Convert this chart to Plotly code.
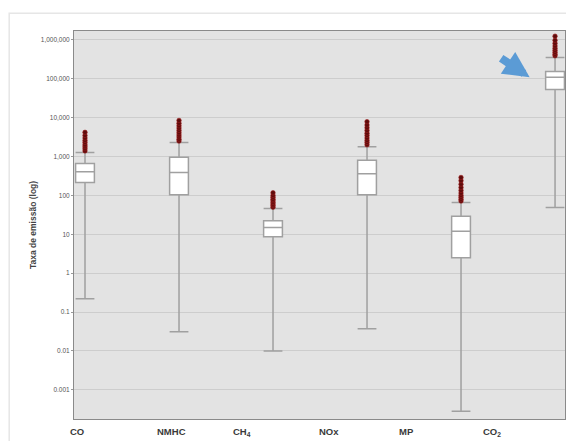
import plotly.graph_objects as go

categories = ["CO", "NMHC", "CH<sub>4</sub>", "NOx", "MP", "CO<sub>2</sub>"]
lower_whisker = [0.22, 0.031, 0.01, 0.037, 0.00028, 49]
q1 = [214, 105, 8.7, 105, 2.5, 53000]
median = [410, 390, 15, 360, 12, 110000]
q3 = [660, 955, 22.5, 800, 29, 155000]
upper_whisker = [1280, 2290, 46, 1800, 66, 355000]
outliers = [
    [1400, 1600, 1800, 2000, 2300, 2600, 3000, 3500, 4200],
    [2500, 2800, 3200, 3600, 4100, 4700, 5400, 6200, 7200, 8500],
    [50, 55, 60, 66, 73, 80, 90, 100, 117],
    [2000, 2300, 2600, 3000, 3500, 4000, 4700, 5500, 6500, 7900],
    [72, 80, 90, 100, 115, 135, 160, 195, 240, 290],
    [390000, 430000, 480000, 540000, 610000, 700000, 820000, 980000, 1250000],
]
y_tickvals = [1e6, 1e5, 1e4, 1e3, 100, 10, 1, 0.1, 0.01, 0.001]
y_ticktext = ["1,000,000", "100,000", "10,000", "1,000", "100", "10", "1", "0.1", "0.01", "0.001"]

pos = list(range(len(categories)))
x_range = [-0.117, 5.106]

fig = go.Figure()
fig.add_trace(go.Box(
    x=pos, q1=q1, median=median, q3=q3,
    lowerfence=lower_whisker, upperfence=upper_whisker,
    width=0.2, whiskerwidth=1,
    fillcolor="white", line=dict(color="#a0a0a0", width=1.5),
    boxpoints=False, showlegend=False, hoverinfo="y",
))

ox, oy = [], []
for i, vals in enumerate(outliers):
    ox += [i] * len(vals)
    oy += vals
fig.add_trace(go.Scatter(
    x=ox, y=oy, mode="markers",
    marker=dict(size=4.5, color="#5e0c0c", line=dict(width=0.6, color="#a01c1c")),
    showlegend=False,
))

# category labels (slightly offset from box centers, as in the reference)
for i, c in enumerate(categories):
    xd = i * 0.925 - 0.18
    xp = (xd - x_range[0]) / (x_range[1] - x_range[0])
    fig.add_annotation(
        x=xp, y=0, xref="paper", yref="paper", yanchor="top", yshift=-5,
        text="<b>" + c + "</b>", showarrow=False,
        font=dict(size=9.5, color="#3a3a3a", family="Liberation Sans, Arial"),
    )

# blue arrow pointing at the CO2 box
fig.add_annotation(
    x=4.73, y=5.04, xref="x", yref="y", ax=-30, ay=-20,
    text="", showarrow=True, arrowhead=2, arrowsize=0.65, arrowwidth=8,
    arrowcolor="#5b9bd5",
)

fig.add_shape(type="rect", xref="paper", yref="paper",
              x0=-0.132, x1=1.008, y0=-0.1, y1=1.046,
              line=dict(color="#e6e6e6", width=1.5), layer="below")

fig.update_xaxes(range=x_range, showticklabels=False, showgrid=False, automargin=False,
                 zeroline=False, showline=True, linecolor="#8a8a8a", linewidth=1, mirror=True)
fig.update_yaxes(type="log", range=[-3.75, 6.23], tickvals=y_tickvals, ticktext=y_ticktext,
                 automargin=False,
                 tickfont=dict(size=6.5, color="#555555"), gridcolor="#cdcdcd", gridwidth=1,
                 showline=True, linecolor="#8a8a8a", linewidth=1, mirror=True,
                 ticks="outside", ticklen=2, tickcolor="#999999",
                 title=dict(text="<b>Taxa de emissão (log)</b>", standoff=2,
                            font=dict(size=8.5, color="#444444")))

# the page body adds an 8 px offset, so the figure is 8 px smaller and margins adjusted
fig.update_layout(
    width=566, height=433,
    margin=dict(l=66, r=9, t=23, b=22),
    plot_bgcolor="#e3e3e3", paper_bgcolor="white",
    font=dict(family="Liberation Sans, Arial"),
)

fig.write_html("out.html")
